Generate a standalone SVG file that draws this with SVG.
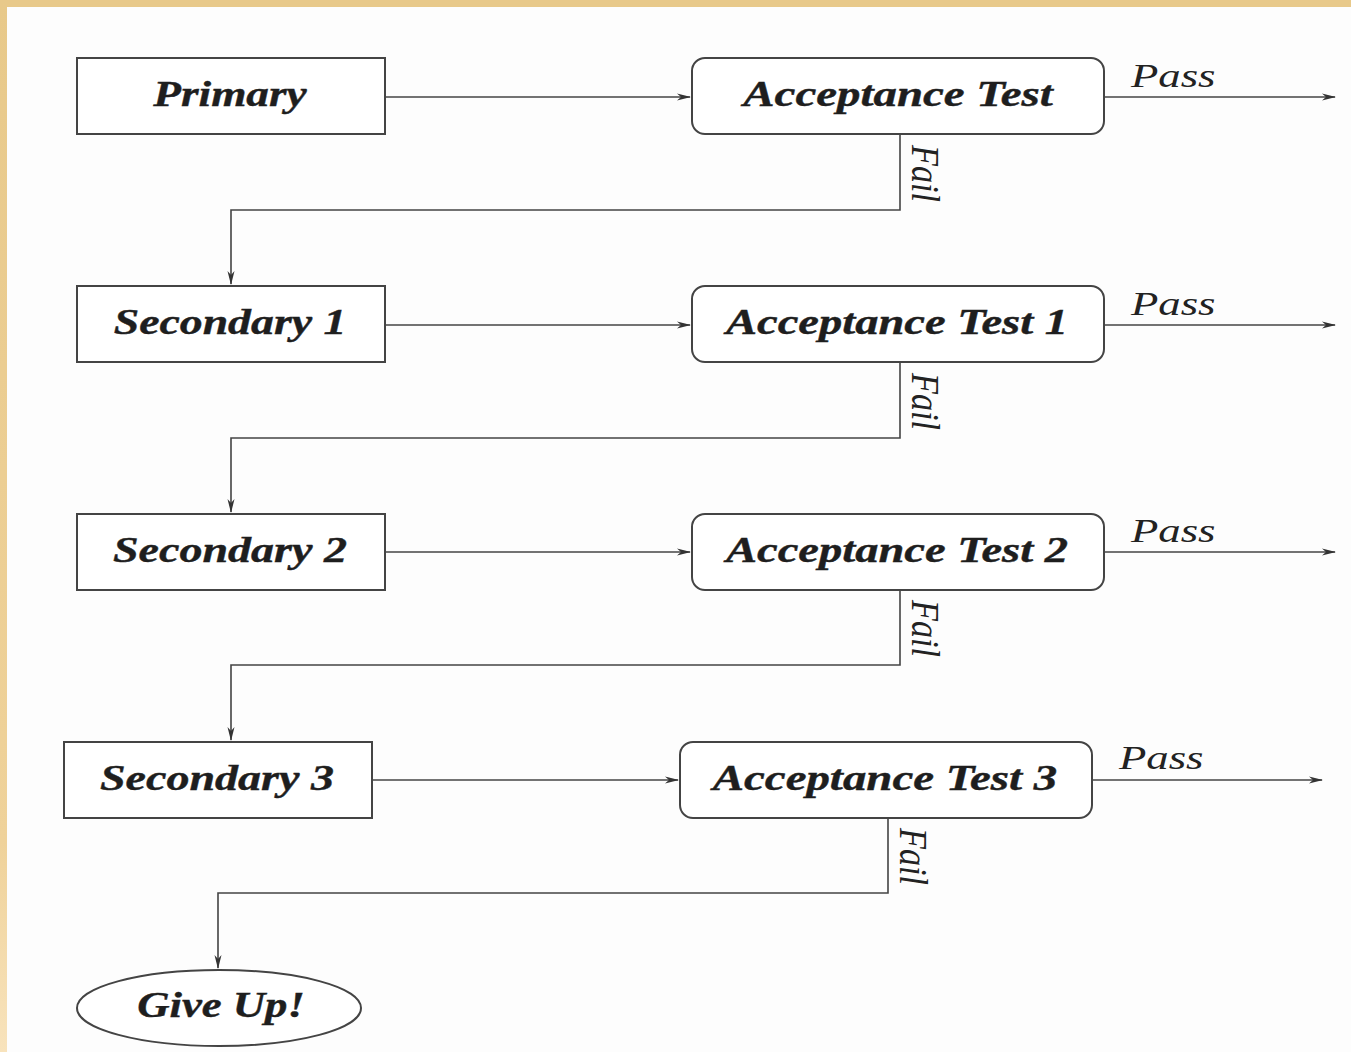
<svg xmlns="http://www.w3.org/2000/svg" width="1351" height="1052" viewBox="0 0 1351 1052">
<defs>
<linearGradient id="lb" x1="0" y1="0" x2="0" y2="1">
<stop offset="0" stop-color="#E8C98A"/><stop offset="0.8" stop-color="#EFD29A"/><stop offset="1" stop-color="#F8E3BC"/>
</linearGradient>
<marker id="ah" markerWidth="14" markerHeight="8" refX="13" refY="4" orient="auto" markerUnits="userSpaceOnUse">
<path d="M0,0.5 L14,4 L0,7.5 L4,4 Z" fill="#333"/>
</marker>
<style>
.box{fill:#fff;stroke:#444;stroke-width:2}
.lbl{font-family:"Liberation Serif","Times New Roman",serif;font-weight:bold;font-style:italic;font-size:35px;fill:#1e1e1e;text-anchor:middle;stroke:#1e1e1e;stroke-width:0.4}
.pf{font-family:"Liberation Serif","Times New Roman",serif;font-style:italic;font-size:34px;fill:#222}
.fl{font-family:"Liberation Serif","Times New Roman",serif;font-style:italic;font-size:28px;fill:#222}
.ln{fill:none;stroke:#444;stroke-width:1.6}
</style>
</defs>
<rect width="1351" height="1052" fill="#FDFDFD"/>
<rect x="0" y="0" width="1351" height="7" fill="#E8C98A"/>
<rect x="0" y="0" width="7" height="1052" fill="url(#lb)"/>

<g id="connectors">
<path class="ln" d="M385,97 H690" marker-end="url(#ah)"/>
<path class="ln" d="M1104,97 H1335" marker-end="url(#ah)"/>
<path class="ln" d="M900,134 V210 H231 V284" marker-end="url(#ah)"/>
<path class="ln" d="M385,325 H690" marker-end="url(#ah)"/>
<path class="ln" d="M1104,325 H1335" marker-end="url(#ah)"/>
<path class="ln" d="M900,362 V438 H231 V512" marker-end="url(#ah)"/>
<path class="ln" d="M385,552 H690" marker-end="url(#ah)"/>
<path class="ln" d="M1104,552 H1335" marker-end="url(#ah)"/>
<path class="ln" d="M900,590 V665 H231 V740" marker-end="url(#ah)"/>
<path class="ln" d="M372,780 H678" marker-end="url(#ah)"/>
<path class="ln" d="M1092,780 H1322" marker-end="url(#ah)"/>
<path class="ln" d="M888,818 V893 H218 V968" marker-end="url(#ah)"/>
<text class="pf" transform="translate(1131,87) scale(1.3,1)" textLength="65" lengthAdjust="spacingAndGlyphs">Pass</text>
<text class="pf" transform="translate(1131,315) scale(1.3,1)" textLength="65" lengthAdjust="spacingAndGlyphs">Pass</text>
<text class="pf" transform="translate(1131,542) scale(1.3,1)" textLength="65" lengthAdjust="spacingAndGlyphs">Pass</text>
<text class="pf" transform="translate(1119,769) scale(1.3,1)" textLength="65" lengthAdjust="spacingAndGlyphs">Pass</text>
<text class="fl" transform="translate(912,145) rotate(90) scale(1,1.4)" textLength="57" lengthAdjust="spacingAndGlyphs">Fail</text>
<text class="fl" transform="translate(912,373) rotate(90) scale(1,1.4)" textLength="57" lengthAdjust="spacingAndGlyphs">Fail</text>
<text class="fl" transform="translate(912,600) rotate(90) scale(1,1.4)" textLength="57" lengthAdjust="spacingAndGlyphs">Fail</text>
<text class="fl" transform="translate(900,828) rotate(90) scale(1,1.4)" textLength="57" lengthAdjust="spacingAndGlyphs">Fail</text>
</g>

<g id="primary"><rect class="box" x="77" y="58" width="308" height="76"/>
<text class="lbl" transform="translate(230,106) scale(1.3,1)" textLength="118" lengthAdjust="spacingAndGlyphs">Primary</text></g>
<g id="at0"><rect class="box" x="692" y="58" width="412" height="76" rx="13"/>
<text class="lbl" transform="translate(898,106) scale(1.3,1)" textLength="238" lengthAdjust="spacingAndGlyphs">Acceptance Test</text></g>

<g id="sec1"><rect class="box" x="77" y="286" width="308" height="76"/>
<text class="lbl" transform="translate(230,334) scale(1.3,1)" textLength="179" lengthAdjust="spacingAndGlyphs">Secondary 1</text></g>
<g id="at1"><rect class="box" x="692" y="286" width="412" height="76" rx="13"/>
<text class="lbl" transform="translate(897,334) scale(1.3,1)" textLength="263" lengthAdjust="spacingAndGlyphs">Acceptance Test 1</text></g>

<g id="sec2"><rect class="box" x="77" y="514" width="308" height="76"/>
<text class="lbl" transform="translate(230,562) scale(1.3,1)" textLength="180" lengthAdjust="spacingAndGlyphs">Secondary 2</text></g>
<g id="at2"><rect class="box" x="692" y="514" width="412" height="76" rx="13"/>
<text class="lbl" transform="translate(897,562) scale(1.3,1)" textLength="263" lengthAdjust="spacingAndGlyphs">Acceptance Test 2</text></g>

<g id="sec3"><rect class="box" x="64" y="742" width="308" height="76"/>
<text class="lbl" transform="translate(217,790) scale(1.3,1)" textLength="180" lengthAdjust="spacingAndGlyphs">Secondary 3</text></g>
<g id="at3"><rect class="box" x="680" y="742" width="412" height="76" rx="13"/>
<text class="lbl" transform="translate(885,790) scale(1.3,1)" textLength="265" lengthAdjust="spacingAndGlyphs">Acceptance Test 3</text></g>

<g id="giveup"><ellipse class="box" cx="219" cy="1008" rx="142" ry="38"/>
<text class="lbl" transform="translate(221,1017) scale(1.3,1)" textLength="129" lengthAdjust="spacingAndGlyphs">Give Up!</text></g>
</svg>
